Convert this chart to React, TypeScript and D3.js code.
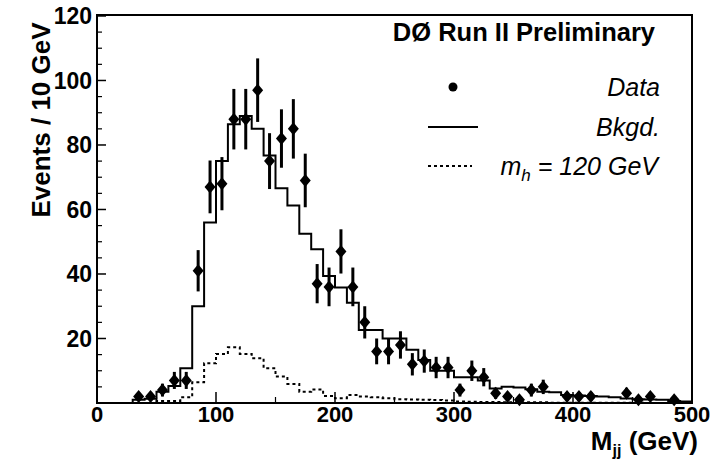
import React from 'react';
import * as d3 from 'd3';

// bins of 10 GeV from 0 to 500 (low edges)
const binLow: number[] = d3.range(0, 500, 10);

// observed data counts per bin
const dataCounts: number[] = [
  0, 0, 0, 2, 2, 4, 7, 7, 41, 67,
  68, 88, 88, 97, 75, 82, 85, 69, 37, 36,
  47, 36, 25, 16, 16, 18, 12, 13, 11, 11,
  4, 10, 8, 3, 2, 1, 4, 5, 0, 2,
  2, 2, 0, 0, 3, 1, 2, 0, 1, 0,
];

// background expectation per bin
const bkgdCounts: number[] = [
  0, 0, 0, 1.0, 1.3, 3.5, 5.3, 10.8, 30, 56,
  75, 86.4, 89, 85, 76.7, 66.6, 61.2, 52.5, 47.7, 39.4,
  35.8, 31.1, 22.6, 22.6, 20, 20, 16.5, 13.3, 10, 10,
  8, 8, 7, 4.5, 5, 4.8, 4.3, 3.5, 3.3, 2.5,
  2.3, 2.2, 2.0, 1.8, 1.4, 1.2, 1.1, 1.0, 0.6, 0.5,
];

// Higgs signal m_h = 120 GeV per bin
const signalCounts: number[] = [
  0, 0, 0, 0, 0, 0.6, 0.6, 1.8, 6.4, 12.3,
  15.2, 17.3, 15.2, 13.9, 10.8, 8.2, 5.9, 3.5, 4.2, 2.2,
  1.5, 2.5, 2.0, 1.8, 1.5, 1.2, 1.1, 1.0, 0.9, 0.8,
  0.5, 0.4, 0.3, 0.3, 0.2, 0.2, 0.2, 0.2, 0.1, 0.1,
  0.1, 0.1, 0.1, 0.1, 0.1, 0.1, 0, 0, 0, 0,
];

const yTickValues: number[] = [20, 40, 60, 80, 100, 120];
const xTickValues: number[] = [0, 100, 200, 300, 400, 500];

const FONT = '"Liberation Sans", Arial, Helvetica, sans-serif';

export default function App() {
  const W = 721;
  const H = 460;
  const left = 97, right = 692, top = 15, bottom = 403;
  const x = d3.scaleLinear().domain([0, 500]).range([left, right]);
  const y = d3.scaleLinear().domain([0, 120.3]).range([bottom, top]);

  const histPath = (vals: number[]) => {
    const pts: [number, number][] = vals.map((v, i) => [binLow[i], v]);
    pts.push([500, vals[vals.length - 1]]);
    return d3
      .line<[number, number]>()
      .x((d) => x(d[0]))
      .y((d) => y(d[1]))
      .curve(d3.curveStepAfter)(pts) as string;
  };

  const yMinor = d3.range(5, 121, 5).filter((v) => v % 20 !== 0);
  const xMinor = d3.range(50, 500, 100);

  const diamond = 'M0,-6.5L5.5,0L0,6.5L-5.5,0Z';

  return (
    <svg
      width={W}
      height={H}
      style={{ position: 'absolute', left: 0, top: 0, background: '#fff' }}
      fontFamily={FONT}
    >
      <rect x={0} y={0} width={W} height={H} fill="#fff" />
      {/* histograms */}
      <path d={histPath(signalCounts)} fill="none" stroke="#000" strokeWidth={2} strokeDasharray="3,3" />
      <path d={histPath(bkgdCounts)} fill="none" stroke="#000" strokeWidth={2} />
      {/* data points */}
      {dataCounts.map((v, i) => {
        if (v <= 0) return null;
        const cx = x(binLow[i] + 5);
        const e = Math.sqrt(v);
        return (
          <g key={i}>
            <line x1={cx} x2={cx} y1={y(v - e)} y2={y(v + e)} stroke="#000" strokeWidth={3} />
            <path d={diamond} transform={`translate(${cx},${y(v)})`} fill="#000" />
          </g>
        );
      })}
      {/* frame */}
      <rect x={left} y={top} width={right - left} height={bottom - top} fill="none" stroke="#000" strokeWidth={2} />
      {/* y ticks */}
      {yTickValues.map((v) => (
        <g key={'y' + v}>
          <line x1={left} x2={left + 9} y1={y(v)} y2={y(v)} stroke="#000" strokeWidth={1.5} />
          <text x={92} y={y(v)} dy="0.36em" textAnchor="end" fontSize={23} fontWeight="bold">
            {v}
          </text>
        </g>
      ))}
      {yMinor.map((v) => (
        <line key={'ym' + v} x1={left} x2={left + 5} y1={y(v)} y2={y(v)} stroke="#000" strokeWidth={1.2} />
      ))}
      {/* x ticks */}
      {xTickValues.map((v) => (
        <g key={'x' + v}>
          <line x1={x(v)} x2={x(v)} y1={bottom} y2={bottom - 11} stroke="#000" strokeWidth={1.5} />
          <text x={x(v)} y={422} textAnchor="middle" fontSize={22} fontWeight="bold">
            {v}
          </text>
        </g>
      ))}
      {xMinor.map((v) => (
        <line key={'xm' + v} x1={x(v)} x2={x(v)} y1={bottom} y2={bottom - 6} stroke="#000" strokeWidth={1.2} />
      ))}
      {/* axis titles */}
      <text
        transform={`translate(50,120) rotate(-90)`}
        textAnchor="middle"
        fontSize={26}
        fontWeight="bold"
      >
        Events / 10 GeV
      </text>
      <text x={698} y={450} textAnchor="end" fontSize={26} fontWeight="bold">
        M<tspan dy={6} fontSize={16}>jj</tspan>
        <tspan dy={-6}> (GeV)</tspan>
      </text>
      {/* header */}
      <text x={655} y={32} dy="0.36em" textAnchor="end" fontSize={25.5} fontWeight="bold">
        DØ Run II Preliminary
      </text>
      {/* legend */}
      <circle cx={453} cy={87} r={4.5} fill="#000" />
      <text x={660} y={87} dy="0.36em" textAnchor="end" fontSize={25} fontStyle="italic">
        Data
      </text>
      <line x1={428} x2={478} y1={127} y2={127} stroke="#000" strokeWidth={2} />
      <text x={660} y={127} dy="0.36em" textAnchor="end" fontSize={25} fontStyle="italic">
        Bkgd.
      </text>
      <line x1={428} x2={472} y1={166} y2={166} stroke="#000" strokeWidth={2} strokeDasharray="3,3" />
      <text x={658} y={166} dy="0.36em" textAnchor="end" fontSize={25} fontStyle="italic">
        m<tspan dy={6} fontSize={17}>h</tspan>
        <tspan dy={-6}> = 120 GeV</tspan>
      </text>
    </svg>
  );
}
